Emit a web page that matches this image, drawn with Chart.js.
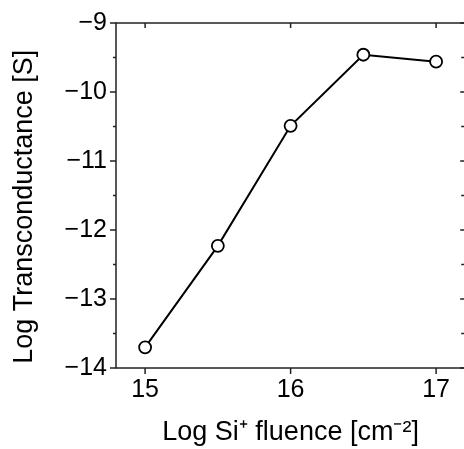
<!DOCTYPE html>
<html>
<head>
<meta charset="utf-8">
<script src="https://cdn.jsdelivr.net/npm/chart.js@4.4.0/dist/chart.umd.min.js"></script>
<style>
  html, body { margin: 0; padding: 0; background: #fff; overflow: hidden; }
  #wrap { width: 473px; height: 449px; }
</style>
</head>
<body>
<div id="wrap"><canvas id="myChart" width="473" height="449"></canvas></div>
<script>
// data
let fluence = [15, 15.5, 16, 16.5, 17];
let logG = [-13.7, -12.23, -10.49, -9.46, -9.56];
let xTicks = [15, 16, 17];
let yTicks = [-14, -13, -12, -11, -10, -9];
let yMinor = [-13.5, -12.5, -11.5, -10.5, -9.5];

let fontName = '"Liberation Sans", Arial, sans-serif';
let axisColour = '#222';

// little ticks like the original plot: out on left/bottom, in on top/right
let frameTicks = {
    id: 'frameTicks',
    afterDraw(chart) {
        let ctx = chart.ctx;
        let a = chart.chartArea;
        let xs = chart.scales.x;
        let ys = chart.scales.y;
        ctx.save();
        ctx.strokeStyle = axisColour;
        ctx.lineWidth = 1.5;
        ctx.strokeRect(a.left, a.top, a.right - a.left, a.bottom - a.top);
        ctx.beginPath();
        xTicks.forEach(v => {
            let px = xs.getPixelForValue(v);
            ctx.moveTo(px, a.bottom); ctx.lineTo(px, a.bottom + 6);
            ctx.moveTo(px, a.top); ctx.lineTo(px, a.top + 5);
        });
        yTicks.forEach(v => {
            let py = ys.getPixelForValue(v);
            ctx.moveTo(a.left - 6, py); ctx.lineTo(a.left, py);
            ctx.moveTo(a.right - 5, py); ctx.lineTo(a.right, py);
        });
        yMinor.forEach(v => {
            let py = ys.getPixelForValue(v);
            ctx.moveTo(a.left - 3, py); ctx.lineTo(a.left, py);
            ctx.moveTo(a.right - 4, py); ctx.lineTo(a.right, py);
        });
        ctx.stroke();
        ctx.restore();
    }
};

let myChart = document.getElementById('myChart').getContext('2d');
let chart = new Chart(myChart, {
    type: 'scatter',
    data: {
        datasets: [{
            data: fluence.map((x, i) => ({ x: x, y: logG[i] })),
            showLine: true,
            borderColor: '#000',
            borderWidth: 2,
            pointRadius: 6,
            pointBorderWidth: 1.8,
            pointBackgroundColor: '#fff',
            pointBorderColor: '#000'
        }]
    },
    options: {
        responsive: false,
        animation: false,
        layout: { padding: { top: 23, right: 0, left: 0, bottom: 0 } },
        plugins: { legend: { display: false }, tooltip: { enabled: false } },
        scales: {
            x: {
                type: 'linear',
                min: 14.8,
                max: 17.2,
                afterBuildTicks: s => { s.ticks = xTicks.map(v => ({ value: v })); },
                afterFit: s => { s.height = 81; s.paddingLeft = 0; s.paddingRight = 0; },
                grid: { display: false, drawTicks: false },
                border: { display: false },
                ticks: { color: '#000', padding: 7, font: { family: fontName, size: 25 } },
                title: {
                    display: true,
                    text: 'Log Si\u207A fluence [cm\u207B\u00B2]',
                    color: '#000',
                    font: { family: fontName, size: 27 },
                    padding: { top: 0, bottom: 0 }
                }
            },
            y: {
                type: 'linear',
                min: -14,
                max: -9,
                afterBuildTicks: s => { s.ticks = yTicks.map(v => ({ value: v })); },
                afterFit: s => { s.width = 116; s.paddingTop = 0; s.paddingBottom = 0; },
                grid: { display: false, drawTicks: false },
                border: { display: false },
                ticks: {
                    color: '#000',
                    padding: 9,
                    font: { family: fontName, size: 25 },
                    callback: v => String(v).replace('-', '\u2212')
                },
                title: {
                    display: true,
                    text: 'Log Transconductance [S]\u00A0\u00A0\u00A0',
                    color: '#000',
                    font: { family: fontName, size: 27 },
                    padding: { top: 8, bottom: 0 }
                }
            }
        }
    },
    plugins: [frameTicks]
});
</script>
</body>
</html>
